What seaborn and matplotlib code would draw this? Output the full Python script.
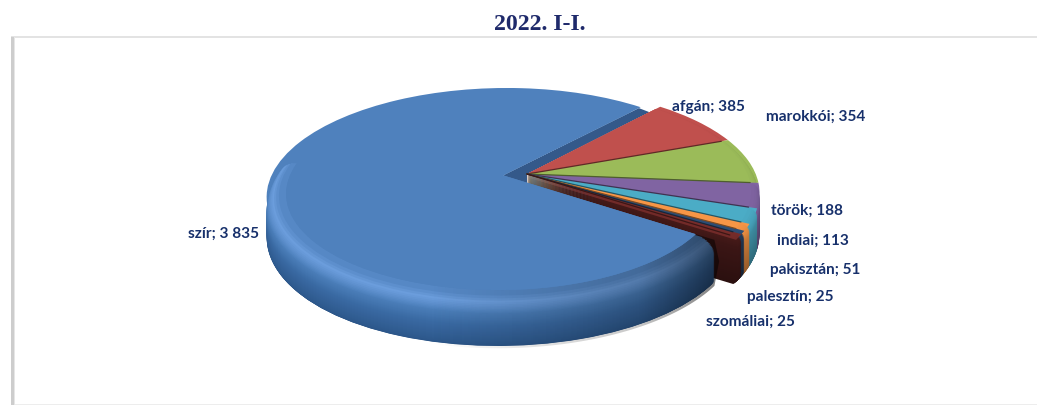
import numpy as np
import matplotlib
matplotlib.use("Agg")
import matplotlib.pyplot as plt
from matplotlib.transforms import Transform, Affine2D
from matplotlib.patches import Polygon, Rectangle
from matplotlib.colors import to_rgb
import seaborn as sns

# ---- data ----
names = ["szír", "afgán", "marokkói", "török", "indiai", "pakisztán", "palesztín", "szomáliai"]
values = [3835, 385, 354, 188, 113, 51, 25, 25]
title_text = "2022. I-I."

# ---- styles / positions ----
face_colors = ["#4F81BD", "#C0504D", "#9BBB59", "#8064A2", "#4BACC6", "#F79646", "#2C4D75", "#772C2A"]
side_strength = [1, 1, 1, 1, 1, 1, 0.8, 0.62]
label_pos = [(224, 234), (708, 107), (816, 117), (807, 211), (813, 241), (815, 270), (790, 297), (750, 322)]
START = -34
EXPLODE = 0.104
CX, CY, RX, RY, K = 527.0, 174.0, 231.0, 103.0, 0.184
REAR_CUT = -188  # side of the big slice is drawn from here round to its front end

sns.set_theme(style="white")
plt.rcParams["font.family"] = ["Lato", "DejaVu Sans"]


class Persp(Transform):
    """Projects the unit pie disc into picture pixels with a slight perspective."""
    input_dims = 2
    output_dims = 2
    is_separable = False
    has_inverse = False

    def transform_non_affine(self, values):
        v = np.asarray(values, dtype=float)
        w = 1 + K * v[:, 1]
        return np.column_stack([CX + RX * v[:, 0] / w, CY - RY * v[:, 1] / w])


persp = Persp()


def pt(u, v, d=0.0):
    return persp.transform_non_affine(np.array([[u, v]]))[0] + np.array([0, d])


fig = plt.figure(figsize=(10.37, 4.05), dpi=100, facecolor="white")
ax = fig.add_axes([0, 0, 1, 1])
z = [10]


def layer(radius, d, colors, show):
    """One pie layer pushed d pixels down the picture; only slices in show are kept."""
    wedges, _ = ax.pie(values, radius=radius, colors=colors,
                       explode=[EXPLODE] + [0] * (len(values) - 1),
                       startangle=START, counterclock=False)
    for i, w in enumerate(wedges):
        if i not in show:
            w.remove()
            continue
        w.set_transform(persp + Affine2D().translate(0, d) + ax.transData)
        z[0] += 1
        w.set_zorder(z[0])
        w.set_linewidth(0)
        w.set_edgecolor("none")
    return wedges


def mix(c, f):
    return tuple(min(1, x * f) for x in to_rgb(c))


others = list(range(1, len(values)))
total = sum(values)

# wall of the pulled-out slice seen in the gap (below the neighbouring slice)
t_start = np.deg2rad(START - 360 * values[0] / total)
bm = np.deg2rad(START - 180 * values[0] / total)
ex, ey = EXPLODE * np.cos(bm), EXPLODE * np.sin(bm)
z[0] += 1
ax.add_patch(Polygon([pt(ex, ey),
                      pt(ex + 0.985 * np.cos(t_start), ey + 0.985 * np.sin(t_start)),
                      pt(0.9 * np.cos(t_start), 0.9 * np.sin(t_start)),
                      pt(0, 0), pt(0, -0.12)],
                     closed=True, fc="#34598A", ec="none", zorder=z[0]))

# the small slices, back to front
D_O = 48
for i in others:
    layer(0.99, 0, face_colors, [i])
    for d in np.arange(D_O, -0.5, -1.0):
        r = 0.95 + 0.04 * np.sqrt(max(0, 1 - (1 - min(d / 8, 1)) ** 2))
        r -= 0.02 * max(0, (d - 40) / 8) ** 2
        f = np.interp(d, [0, 3, 12, 48], [1.0, 0.95, 0.8, 0.58])
        if d > 3:
            f *= side_strength[i]
        layer(r, d, [mix(c, f) for c in face_colors], [i])
faces = layer(0.955, 0, face_colors, others)

# thin separators between the small slices
for i in others:
    a = np.deg2rad(faces[i].theta1)
    ax.plot([0, 0.955 * np.cos(a)], [0, 0.955 * np.sin(a)], color=mix(face_colors[i], 0.5), lw=0.9,
            solid_capstyle="round", transform=persp + ax.transData, zorder=z[0] + 1)
z[0] += 2

# pulled-out slice: rear rim, then rounded side on the front part only
rear = layer(1.0, 0, face_colors, [0])
rear[0].set_theta2(REAR_CUT + 25)
D_B = 46
stops = [0, 4, 12, 24, 46]
cols = np.array([to_rgb(c) for c in ["#4F81BD", "#6B9DDC", "#4A7DB8", "#3A6AA3", "#2B5588"]])
for d in np.arange(D_B, -0.5, -1.0):
    r = 0.92 + 0.08 * np.sqrt(max(0, 1 - (1 - min(d / 14, 1)) ** 2))
    r -= 0.015 * max(0, (d - 40) / 6) ** 2
    c = tuple(np.interp(d, stops, cols[:, i]) for i in range(3))
    wedges = layer(r, d, [c] * len(values), [0])
    wedges[0].set_theta1(REAR_CUT)

# left-to-right shading of the side
ang = np.deg2rad(np.linspace(REAR_CUT, START, 120))
upper = [pt(ex + 0.92 * np.cos(a), ey + 0.92 * np.sin(a)) for a in ang]
lower = [pt(ex + np.cos(a), ey + np.sin(a), D_B) for a in ang[::-1]]
end_cap = [pt(ex + np.cos(ang[-1]), ey + np.sin(ang[-1]), 0), pt(ex + 1.02 * np.cos(ang[-1]), ey + 1.02 * np.sin(ang[-1]), 20)]
clip = Polygon(upper + end_cap + lower, closed=True, transform=ax.transData, fc="none", ec="none")
xs = np.linspace(260, 745, 200)
img = np.zeros((1, xs.size, 4))
img[0, :, 3] = np.interp(xs, [260, 430, 640, 720, 745], [0, 0, 0.22, 0.5, 0.55])
z[0] += 1
im = ax.imshow(img, extent=(260, 745, 360, 90), aspect="auto", zorder=z[0], interpolation="bilinear")
ax.add_patch(clip)
im.set_clip_path(clip)

# flat top of the pulled-out slice
layer(0.92, 0, face_colors, [0])

# frame
ax.add_patch(Rectangle((11, 36), 1026, 2, fc="#E3E3E3", ec="none", zorder=2))
ax.add_patch(Rectangle((11, 37), 2.5, 368, fc="#CDCDCD", ec="none", zorder=3))
ax.add_patch(Rectangle((13.5, 37), 1.5, 368, fc="#E6E6E6", ec="none", zorder=3))
ax.add_patch(Rectangle((11, 403.5), 1026, 1.5, fc="#EDEDED", ec="none", zorder=2))

# texts
z_text = z[0] + 10
for n, v, (x, y) in zip(names, values, label_pos):
    ax.text(x, y, f"{n}; {v:,}".replace(",", " "), ha="center", va="center",
            fontsize=11.1, fontweight="bold", color="#17306B", zorder=z_text)
ax.text(540, 24, title_text, ha="center", va="center", fontsize=17.2, fontweight="bold",
        family="Liberation Serif", color="#1F2A6B", zorder=z_text)

ax.set_aspect("auto")
ax.set_xlim(0, 1037)
ax.set_ylim(405, 0)
ax.axis("off")
fig.savefig("out.png", dpi=100, facecolor="white")
